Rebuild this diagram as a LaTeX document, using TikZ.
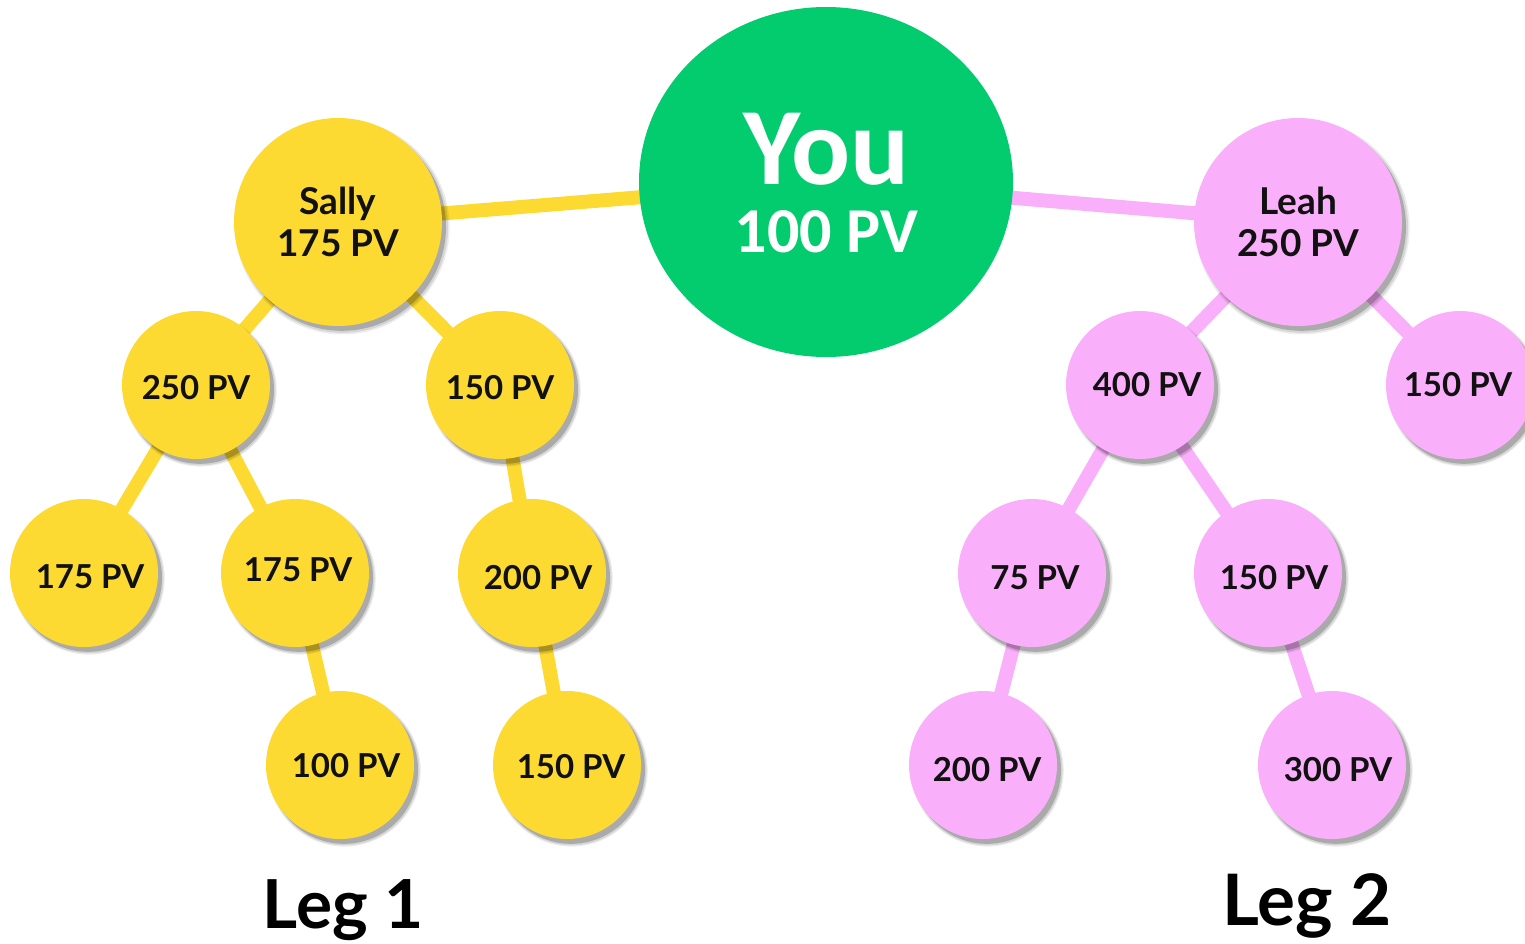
\documentclass[tikz,border=0pt]{standalone}
\usepackage{fontspec}
\setmainfont{Lato}
\newfontfamily\youfont{Carlito}
\usetikzlibrary{shadows,shapes.geometric}
\definecolor{ylw}{RGB}{253,218,50}
\definecolor{pnk}{RGB}{250,175,250}
\definecolor{grn}{RGB}{2,204,110}
\definecolor{txt}{RGB}{17,17,17}
\pgfdeclarelayer{bg}
\pgfsetlayers{bg,main}
% text offset: #1 = dx px (right), #2 = dy px (down)
\newcommand\offtxt[3]{\raisebox{-0.5\dimexpr #2pt\relax}[\height][\depth]{\hspace*{#1pt}#3}}
\tikzset{
  softshadow/.style={
    drop shadow={shadow xshift=2.2pt, shadow yshift=-2.6pt, shadow scale=1.03, opacity=0.07, fill=black},
    drop shadow={shadow xshift=2.2pt, shadow yshift=-2.6pt, shadow scale=1.015, opacity=0.1, fill=black},
    drop shadow={shadow xshift=2pt, shadow yshift=-2.4pt, shadow scale=1.0, opacity=0.2, fill=black}},
  bubble/.style={circle, inner sep=0pt, align=center, text=txt, softshadow},
  small/.style={bubble, minimum size=74pt, font=\bfseries\fontsize{16.5}{19}\selectfont},
  big/.style={bubble, minimum size=104pt, font=\bfseries\fontsize{18.5}{21}\selectfont},
  ynode/.style={fill=ylw},
  pnode/.style={fill=pnk},
  yline/.style={draw=ylw, line width=7pt},
  pline/.style={draw=pnk, line width=7pt},
  legtext/.style={text=black, anchor=base},
  youtext/.style={text=white, inner sep=0pt, align=center}
}
\begin{document}
\begin{tikzpicture}[x=0.5pt,y=-0.5pt]
\useasboundingbox (0,0) rectangle (1525,943);
\clip (0,0) rectangle (1525,943);
% root
\node[ellipse, fill=grn, minimum width=187pt, minimum height=175pt, inner sep=0pt] (you) at (826,182) {};
\node[youtext, font=\youfont\bfseries\fontsize{32}{34}\selectfont] (youlbl) at (826.5,183.5) {{\fontsize{55}{55}\selectfont You}\\100 PV};
% leg 1
\node[big, ynode] (sally) at (338,222) {Sally\\175 PV};
\node[small, ynode] (l1a) at (196,385) {\offtxt{0}{3}{250 PV}};
\node[small, ynode] (l1b) at (500,385) {\offtxt{0}{3}{150 PV}};
\node[small, ynode] (l1c) at (84,573) {\offtxt{6}{4}{175 PV}};
\node[small, ynode] (l1d) at (295,573) {\offtxt{3}{-3}{175 PV}};
\node[small, ynode] (l1e) at (532,573) {\offtxt{6}{5}{200 PV}};
\node[small, ynode] (l1f) at (340,765) {\offtxt{6}{1}{100 PV}};
\node[small, ynode] (l1g) at (567,765) {\offtxt{4}{2}{150 PV}};
% leg 2
\node[big, pnode] (leah) at (1298,222) {Leah\\250 PV};
\node[small, pnode] (l2a) at (1140,385) {\offtxt{7}{0}{400 PV}};
\node[small, pnode] (l2b) at (1460,385) {\offtxt{-2}{0}{150 PV}};
\node[small, pnode] (l2c) at (1032,573) {\offtxt{3}{5}{75 PV}};
\node[small, pnode] (l2d) at (1268,573) {\offtxt{6}{5}{150 PV}};
\node[small, pnode] (l2e) at (983,765) {\offtxt{4}{5}{200 PV}};
\node[small, pnode] (l2f) at (1332,765) {\offtxt{6}{5}{300 PV}};
% labels
\node[legtext, font=\bfseries\fontsize{33.8}{36}\selectfont] (leg1) at (343,928) {Leg 1};
\node[legtext, font=\bfseries\fontsize{35.5}{38}\selectfont] (leg2) at (1307,925) {Leg 2};
\begin{pgfonlayer}{bg}
\draw[yline] (you.center) -- (sally.center);
\draw[yline] (sally.center) -- (l1a.center);
\draw[yline] (sally.center) -- (l1b.center);
\draw[yline] (l1a.center) -- (l1c.center);
\draw[yline] (l1a.center) -- (l1d.center);
\draw[yline] (l1b.center) -- (l1e.center);
\draw[yline] (l1d.center) -- (l1f.center);
\draw[yline] (l1e.center) -- (l1g.center);
\draw[pline] (you.center) -- (leah.center);
\draw[pline] (leah.center) -- (l2a.center);
\draw[pline] (leah.center) -- (l2b.center);
\draw[pline] (l2a.center) -- (l2c.center);
\draw[pline] (l2a.center) -- (l2d.center);
\draw[pline] (l2c.center) -- (l2e.center);
\draw[pline] (l2d.center) -- (l2f.center);
\end{pgfonlayer}
\end{tikzpicture}
\end{document}
